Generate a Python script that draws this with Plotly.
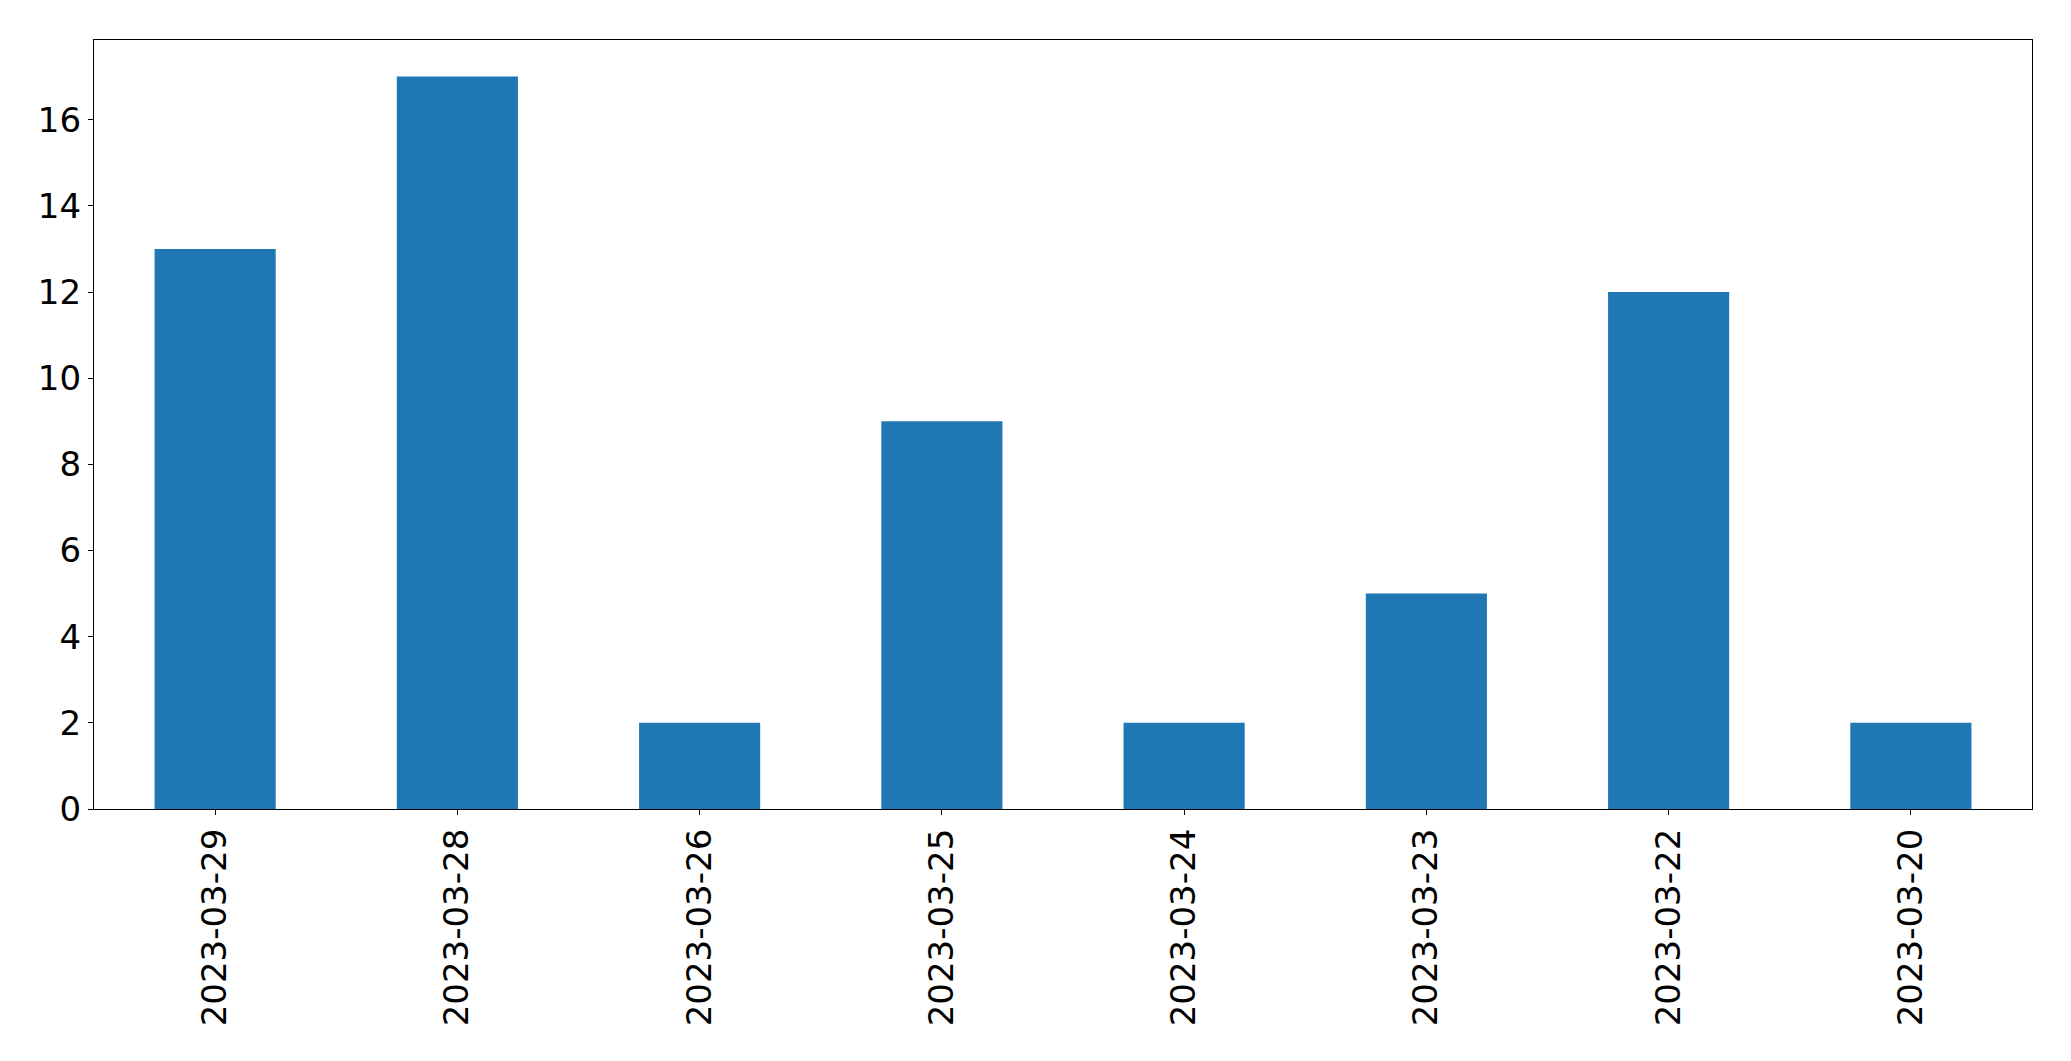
import plotly.graph_objects as go

dates = ["2023-03-29", "2023-03-28", "2023-03-26", "2023-03-25",
         "2023-03-24", "2023-03-23", "2023-03-22", "2023-03-20"]
counts = [13, 17, 2, 9, 2, 5, 12, 2]

fig = go.Figure(go.Bar(x=list(range(len(dates))), y=counts, width=0.5,
                       marker=dict(color="#1f77b4", line=dict(width=0))))

font = dict(family="DejaVu Sans", size=34, color="black")
fig.update_layout(
    width=2063, height=1053,
    margin=dict(l=86, r=39, t=32, b=252, pad=0),
    paper_bgcolor="white", plot_bgcolor="white",
    showlegend=False,
    font=font,
)
fig.update_xaxes(
    range=[-0.5, len(dates) - 0.5],
    tickmode="array", tickvals=list(range(len(dates))), ticktext=dates,
    tickangle=-90, ticks="outside", ticklen=5, tickwidth=1.3, tickcolor="black",
    showline=True, linecolor="black", linewidth=1.3, mirror=True,
    showgrid=False, zeroline=False, tickfont=font,
)
fig.update_yaxes(
    range=[0, 17.85],
    tickmode="array", tickvals=[0, 2, 4, 6, 8, 10, 12, 14, 16],
    ticks="outside", ticklen=5, tickwidth=1.3, tickcolor="black",
    showline=True, linecolor="black", linewidth=1.3, mirror=True,
    showgrid=False, zeroline=False, tickfont=font,
)
fig.write_html("out.html")
